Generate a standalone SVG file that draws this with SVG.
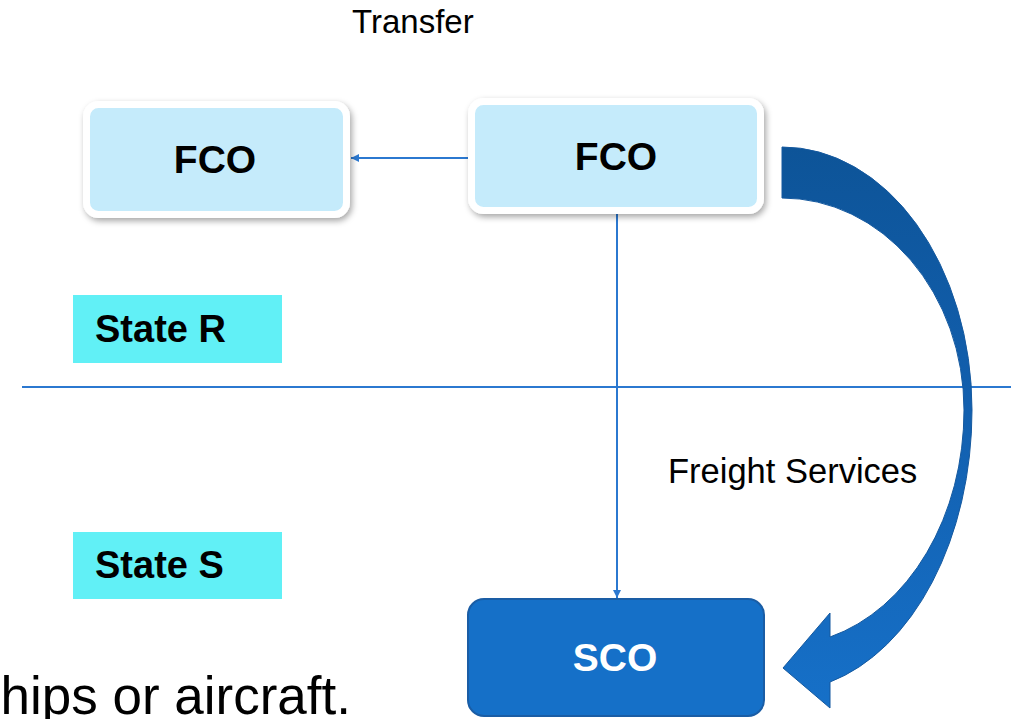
<svg xmlns="http://www.w3.org/2000/svg" width="1011" height="719" viewBox="0 0 1011 719">
<defs>
<style>
.t{font-family:"Liberation Sans",Arial,sans-serif;fill:#000}
.b{font-weight:bold}
.line{stroke:#2B78D0;stroke-width:2;fill:none}
.fco{fill:#C5EBFB;stroke:#fff;stroke-width:7}
.state{fill:#61F0F6}
</style>
<filter id="sh" x="-10%" y="-10%" width="120%" height="130%">
<feDropShadow dx="2" dy="3" stdDeviation="3" flood-color="#000" flood-opacity="0.35"/>
</filter>
<marker id="ah2" viewBox="0 0 10 10" refX="10" refY="5" markerWidth="8" markerHeight="8" orient="auto" markerUnits="userSpaceOnUse">
<path d="M0,0 L10,5 L0,10 Z" fill="#2B78D0"/>
</marker>
<linearGradient id="g" x1="0" y1="147" x2="0" y2="708" gradientUnits="userSpaceOnUse">
<stop offset="0" stop-color="#0D5498"/>
<stop offset="0.45" stop-color="#125FAE"/>
<stop offset="1" stop-color="#1670C8"/>
</linearGradient>
</defs>
<rect width="1011" height="719" fill="#fff"/>
<text class="t" x="352" y="33" font-size="33">Transfer</text>
<g id="connectors">
<line class="line" x1="22" y1="387" x2="1011" y2="387"/>
<line class="line" x1="470" y1="158" x2="351" y2="158" marker-end="url(#ah2)"/>
<line class="line" x1="617" y1="212" x2="617" y2="598" marker-end="url(#ah2)"/>
<path d="M782,147 A190,263 0 0 1 972,410 A190,281 0 0 1 830,682 L830,708 L783,668 L830,613 L830,637 A182,235 0 0 0 964,410 A182,212 0 0 0 782,198 Z" fill="url(#g)" stroke="#15599F" stroke-width="1"/>
<text class="t" x="668" y="483" font-size="34.5">Freight Services</text>
</g>
<g id="fco-r">
<rect class="fco" x="86.5" y="104.5" width="260" height="110" rx="12" filter="url(#sh)"/>
<text class="t b" x="215" y="173" font-size="39" text-anchor="middle">FCO</text>
</g>
<g id="fco-t">
<rect class="fco" x="471.5" y="101.5" width="289" height="109" rx="12" filter="url(#sh)"/>
<text class="t b" x="616" y="170" font-size="39" text-anchor="middle">FCO</text>
</g>
<g id="state-r">
<rect class="state" x="73" y="295" width="209" height="68"/>
<text class="t b" x="95" y="342" font-size="38">State R</text>
</g>
<g id="state-s">
<rect class="state" x="73" y="532" width="209" height="67"/>
<text class="t b" x="95" y="578" font-size="38">State S</text>
</g>
<g id="sco">
<rect x="468" y="599" width="296" height="117" rx="16" fill="#1570C8" stroke="#1A5DA5" stroke-width="2"/>
<text class="b" x="615" y="671" font-size="39" text-anchor="middle" font-family="Liberation Sans, Arial, sans-serif" fill="#fff">SCO</text>
</g>
<text class="t" x="-26" y="714" font-size="53">ships or aircraft.</text>
</svg>
